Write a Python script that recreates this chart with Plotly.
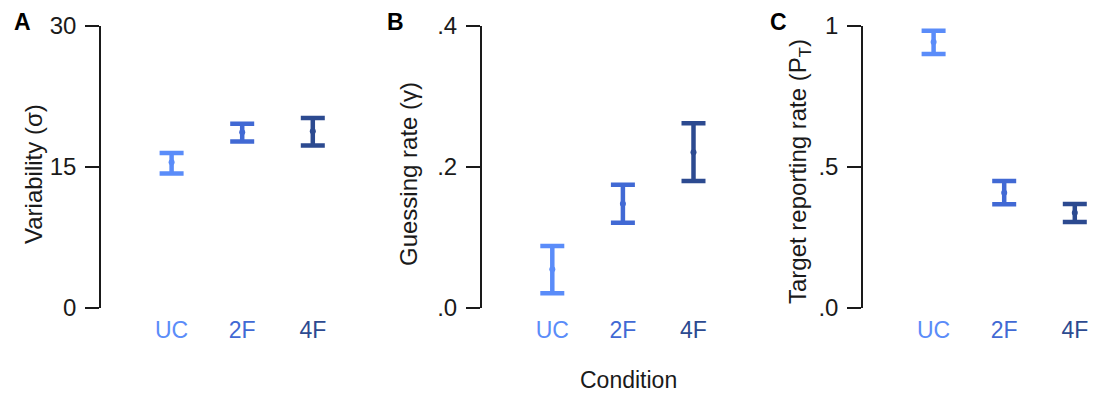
import plotly.graph_objects as go

categories = ["UC", "2F", "4F"]
colors = ["#5a8cf9", "#4169d4", "#2c4a90"]

var_mean = [15.5, 18.7, 18.8]
var_hi = [16.5, 19.6, 20.2]
var_lo = [14.3, 17.7, 17.3]

guess_mean = [0.055, 0.148, 0.221]
guess_hi = [0.088, 0.175, 0.262]
guess_lo = [0.021, 0.121, 0.180]

pt_mean = [0.943, 0.409, 0.338]
pt_hi = [0.983, 0.450, 0.369]
pt_lo = [0.901, 0.368, 0.305]

panels = [
    dict(mean=var_mean, hi=var_hi, lo=var_lo, yrange=[0, 30], tickvals=[0, 15, 30],
         ticktext=["0", "15", "30"], title="Variability (σ)", letter="A"),
    dict(mean=guess_mean, hi=guess_hi, lo=guess_lo, yrange=[0, 0.4], tickvals=[0, 0.2, 0.4],
         ticktext=[".0", ".2", ".4"], title="Guessing rate (γ)", letter="B"),
    dict(mean=pt_mean, hi=pt_hi, lo=pt_lo, yrange=[0, 1], tickvals=[0, 0.5, 1],
         ticktext=[".0", ".5", "1"], title="Target reporting rate (P<sub>T</sub>)", letter="C"),
]

# page body has an 8px margin: work in window pixels, then shift
OFF = 8
W, H = 1099 - OFF, 394 - OFF
axis_px = [101, 481.7, 863]
unit = 70.6
xr = [-1, 2.3]
y_top_px, y_bot_px = 26, 308
title_x_px = [33, 408.5, 800]
title_y_px = [174, 174.5, 172]
letter_x_px = [22, 395, 778]


def px_x(v):
    return (v - OFF) / W


def px_y(v):
    return 1 - (v - OFF) / H


FONT = "Liberation Sans, Arial, Helvetica, sans-serif"
TXT = "#1a1a1a"

fig = go.Figure()
layout = dict(
    width=W, height=H, margin=dict(l=0, r=0, t=0, b=0, autoexpand=False),
    paper_bgcolor="white", plot_bgcolor="white", showlegend=False,
    font=dict(family=FONT, size=24, color=TXT),
)
annotations = []
for i, p in enumerate(panels):
    xa = "x" if i == 0 else f"x{i+1}"
    ya = "y" if i == 0 else f"y{i+1}"
    x0 = px_x(axis_px[i])
    x1 = px_x(axis_px[i] + unit * (xr[1] - xr[0]))
    for j, c in enumerate(categories):
        fig.add_trace(go.Scatter(
            x=[j], y=[p["mean"][j]], mode="markers", xaxis=xa, yaxis=ya,
            marker=dict(color=colors[j], size=6),
            error_y=dict(type="data", symmetric=False,
                         array=[p["hi"][j] - p["mean"][j]],
                         arrayminus=[p["mean"][j] - p["lo"][j]],
                         color=colors[j], thickness=4.5, width=12),
        ))
    ticktext = [f'<span style="color:{colors[j]}">{c}</span>' for j, c in enumerate(categories)]
    layout["xaxis" if i == 0 else f"xaxis{i+1}"] = dict(
        domain=[x0, min(x1, 1)], range=xr, tickvals=[0, 1, 2], ticktext=ticktext,
        showline=False, showgrid=False, zeroline=False, ticks="", anchor=ya,
        tickfont=dict(size=23), ticklabelstandoff=6, fixedrange=True,
        automargin=False,
    )
    layout["yaxis" if i == 0 else f"yaxis{i+1}"] = dict(
        domain=[px_y(y_bot_px), px_y(y_top_px)], range=p["yrange"],
        tickvals=p["tickvals"], ticktext=p["ticktext"], showline=True,
        linecolor=TXT, linewidth=1.5, ticks="outside", ticklen=14,
        tickwidth=1.5, tickcolor=TXT, showgrid=False, zeroline=False,
        anchor=xa, tickfont=dict(size=24), ticklabelstandoff=4, fixedrange=True,
        automargin=False,
    )
    annotations.append(dict(
        x=px_x(title_x_px[i]), y=px_y(title_y_px[i]), xref="paper", yref="paper",
        text=p["title"], textangle=-90, showarrow=False,
        font=dict(size=24, color=TXT), xanchor="center", yanchor="middle",
    ))
    annotations.append(dict(
        x=px_x(letter_x_px[i]), y=px_y(22), xref="paper", yref="paper",
        text=f"<b>{p['letter']}</b>", showarrow=False,
        font=dict(size=23, color="#000000"), xanchor="center", yanchor="middle",
    ))

annotations.append(dict(
    x=px_x(628), y=px_y(380), xref="paper", yref="paper", text="Condition",
    showarrow=False, font=dict(size=23, color=TXT),
    xanchor="center", yanchor="middle",
))
layout["annotations"] = annotations
fig.update_layout(**layout)
fig.write_html("out.html")
